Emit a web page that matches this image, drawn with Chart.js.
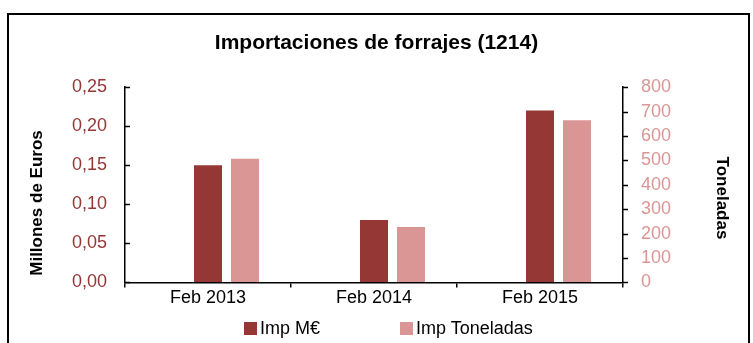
<!DOCTYPE html>
<html>
<head>
<meta charset="utf-8">
<title>Importaciones de forrajes (1214)</title>
<script src="https://cdn.jsdelivr.net/npm/chart.js@4.4.1/dist/chart.umd.min.js"></script>
<style>
  html, body { margin: 0; padding: 0; background: #fff; overflow: hidden; }
  #marco { position: absolute; left: 7px; top: 13px; width: 739px; height: 400px; border: 2px solid #000; }
  #grafico { position: absolute; left: 0; top: 0; }
  #leyenda { position: absolute; left: 244px; top: 318px; display: flex; gap: 80px;
             font: 18px "Liberation Sans", Arial, sans-serif; color: #000; }
  #leyenda span.item { display: flex; align-items: center; }
  #leyenda span.caja { width: 13px; height: 13px; margin-right: 3px; display: inline-block; }
</style>
</head>
<body>
<div id="marco"></div>
<canvas id="grafico" width="753" height="343"></canvas>
<div id="leyenda"></div>
<script>
// datos
const categorias = ["Feb 2013", "Feb 2014", "Feb 2015"];
const impEuros = [0.15, 0.08, 0.22];          // millones de euros
const impToneladas = [507, 227, 665];         // toneladas
const ticksEuros = ["0,00", "0,05", "0,10", "0,15", "0,20", "0,25"];
const ticksToneladas = ["0", "100", "200", "300", "400", "500", "600", "700", "800"];

const rojo = "#953735";
const rosa = "#D99694";
const fuente = "'Liberation Sans', Arial, sans-serif";

Chart.defaults.font.family = fuente;

// marcas cortas en los ejes verticales y titulos de eje
const marcasEjes = {
  id: "marcasEjes",
  afterDraw(chart) {
    const { ctx, chartArea, scales } = chart;
    ctx.save();
    ctx.strokeStyle = "#000";
    ctx.lineWidth = 1.5;
    [scales.yEuros, scales.yTon].forEach(s => {
      const x = s.position === "left" ? chartArea.left : chartArea.right;
      s.ticks.forEach(t => {
        const y = Math.round(s.getPixelForValue(t.value)) + 0.5;
        ctx.beginPath();
        ctx.moveTo(x, y);
        ctx.lineTo(x + 5, y);
        ctx.stroke();
      });
    });

    ctx.fillStyle = "#000";
    ctx.font = "bold 17px " + fuente;
    ctx.textAlign = "center";
    ctx.textBaseline = "middle";

    ctx.save();
    ctx.translate(37, 203);
    ctx.rotate(-Math.PI / 2);
    ctx.fillText("Millones de Euros", 0, 0);
    ctx.restore();

    ctx.save();
    ctx.translate(722, 198);
    ctx.rotate(Math.PI / 2);
    ctx.fillText("Toneladas", 0, 0);
    ctx.restore();

    ctx.restore();
  }
};

const barras = { categoryPercentage: 0.669, barPercentage: 0.757 };

const chart = new Chart(document.getElementById("grafico"), {
  type: "bar",
  data: {
    labels: categorias,
    datasets: [
      // hueco vacio a la izquierda de cada grupo
      { label: "", data: categorias.map(() => null), yAxisID: "yEuros", ...barras },
      { label: "Imp M€", data: impEuros, backgroundColor: rojo, yAxisID: "yEuros", ...barras },
      { label: "Imp Toneladas", data: impToneladas, backgroundColor: rosa, yAxisID: "yTon", ...barras }
    ]
  },
  options: {
    responsive: false,
    animation: false,
    layout: { padding: { left: 0, right: 0, top: 0, bottom: 34 } },
    plugins: {
      legend: { display: false },
      tooltip: { enabled: false },
      title: {
        display: true,
        text: "Importaciones de forrajes (1214)",
        color: "#000",
        font: { size: 21, weight: "bold" },
        padding: { top: 31, bottom: 31 }
      }
    },
    scales: {
      x: {
        grid: { offset: true, drawOnChartArea: false, tickLength: 5, color: "#000", lineWidth: 1.5 },
        border: { color: "#000", width: 1.5 },
        ticks: { color: "#000", font: { size: 18 }, padding: 0 }
      },
      yEuros: {
        position: "left",
        min: 0, max: 0.25,
        grid: { drawOnChartArea: false, drawTicks: false },
        border: { color: "#000", width: 1.5 },
        ticks: { stepSize: 0.05, autoSkip: false, color: rojo, font: { size: 18 }, padding: 18,
                 callback: (v, i) => ticksEuros[i] },
        afterFit: s => { s.width = 125; }
      },
      yTon: {
        position: "right",
        min: 0, max: 800,
        grid: { drawOnChartArea: false, drawTicks: false },
        border: { color: "#000", width: 1.5 },
        ticks: { stepSize: 100, autoSkip: false, color: rosa, font: { size: 18 }, padding: 18,
                 callback: (v, i) => ticksToneladas[i] },
        afterFit: s => { s.width = 130; }
      }
    }
  },
  plugins: [marcasEjes]
});

// leyenda
const leyenda = document.getElementById("leyenda");
chart.data.datasets.filter(d => d.label).forEach(d => {
  const item = document.createElement("span");
  item.className = "item";
  const caja = document.createElement("span");
  caja.className = "caja";
  caja.style.background = d.backgroundColor;
  item.appendChild(caja);
  item.appendChild(document.createTextNode(d.label));
  leyenda.appendChild(item);
});
</script>
</body>
</html>
